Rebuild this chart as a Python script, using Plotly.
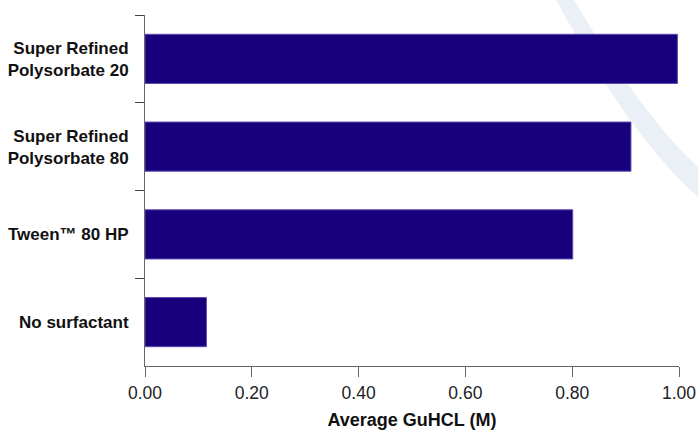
import plotly.graph_objects as go

categories = ["Super Refined<br>Polysorbate 20", "Super Refined<br>Polysorbate 80",
              "Tween™ 80 HP", "No surfactant"]
values = [0.997, 0.910, 0.801, 0.115]
x_ticks = [0.0, 0.2, 0.4, 0.6, 0.8, 1.0]
x_tick_labels = ["0.00", "0.20", "0.40", "0.60", "0.80", "1.00"]

W, H = 698, 430
L, R, T, B = 145, 19, 15, 64
PW, PH = W - L - R, H - T - B


def px(x, y):
    return (x - L) / PW, (H - B - y) / PH


def pt(x, y):
    a, b = px(x, y)
    return f"{a:.4f},{b:.4f}"


arc = ("M " + pt(555, -2) + " Q " + pt(631.6, 139.25) + " " + pt(698, 197) +
       " L " + pt(710, 197) + " L " + pt(710, 167) + " L " + pt(698, 167) +
       " Q " + pt(643.4, 117.4) + " " + pt(573, -2) + " Z")

FONT = "Liberation Sans, Arial, Helvetica, sans-serif"

fig = go.Figure()
fig.add_trace(go.Bar(
    y=categories, x=values, orientation="h", width=0.56,
    marker=dict(color="#18007c", line=dict(color="#5a4ab0", width=1)),
))

fig.update_layout(
    width=W, height=H,
    margin=dict(l=L, r=R, t=T, b=B, pad=0, autoexpand=False),
    paper_bgcolor="white", plot_bgcolor="rgba(0,0,0,0)",
    showlegend=False,
    font=dict(family=FONT, size=17, color="#1a1a1a"),
    shapes=[dict(type="path", xref="paper", yref="paper", path=arc,
                 fillcolor="#ebeff6", line=dict(width=0), layer="below")],
)
fig.update_xaxes(
    range=[0, 1.0], tickvals=x_ticks, ticktext=x_tick_labels,
    showgrid=False, zeroline=False, automargin=False,
    showline=True, linecolor="#666", linewidth=1,
    ticks="outside", ticklen=10, tickcolor="#666", tickwidth=1,
    ticklabelstandoff=1,
    tickfont=dict(size=17.5, color="#222", family=FONT),
    title=dict(text="<b>Average GuHCL (M)</b>", font=dict(size=18, color="#111", family=FONT), standoff=22),
)
fig.update_yaxes(
    categoryorder="array", categoryarray=categories, autorange="reversed",
    showgrid=False, zeroline=False, automargin=False,
    showline=True, linecolor="#666", linewidth=1,
    ticks="outside", ticklen=9, tickcolor="#444", tickwidth=1,
    tickson="boundaries", ticklabelstandoff=12,
    tickfont=dict(size=17, color="#111", family=FONT, weight="bold"),
)

fig.write_html("out.html")
